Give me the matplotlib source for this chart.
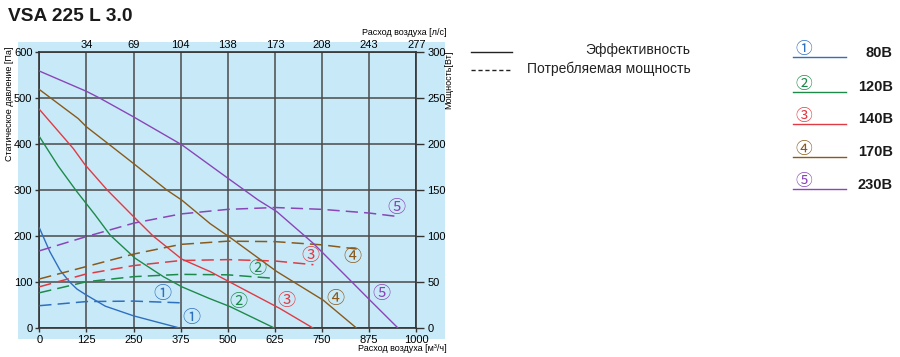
import numpy as np
import matplotlib.pyplot as plt
from matplotlib.patches import Rectangle

plt.rcParams['font.family'] = ['Liberation Sans', 'DejaVu Sans']

# airflow m3/h and static pressure Pa (solid curves)
x1 = [0, 28, 55, 81, 100, 125, 175, 250, 310, 375]
p1 = [218, 166, 126, 100, 85, 72, 48, 27, 14, 0]
x2 = [0, 50, 100, 148, 188, 254, 329, 378, 450, 506, 625]
p2 = [416, 352, 296, 246, 202, 152, 112, 90, 65, 47, 0]
x3 = [0, 90, 121, 180, 249, 302, 378, 453, 506, 638, 727]
p3 = [475, 390, 355, 300, 243, 200, 150, 123, 100, 43, 0]
x4 = [0, 103, 125, 188, 249, 338, 378, 453, 506, 630, 753, 842]
p4 = [518, 455, 437, 397, 358, 300, 278, 227, 197, 123, 61, 0]
x5 = [0, 125, 161, 249, 378, 501, 581, 630, 727, 815, 877, 952]
p5 = [558, 514, 499, 459, 398, 325, 278, 253, 184, 112, 61, 0]

# power consumption W (dashed curves)
wx1 = [0, 125, 250, 385]
w1 = [24.5, 29, 29.5, 27.5]
wx2 = [0, 125, 250, 375, 500, 628]
w2 = [38.5, 50.5, 56, 58.5, 58, 54]
wx3 = [0, 125, 250, 375, 500, 625, 727]
w3 = [45, 59, 68, 73.5, 74.5, 73, 69]
wx4 = [0, 125, 250, 375, 500, 625, 750, 842]
w4 = [53.5, 67, 80.5, 91, 94.5, 94, 90.5, 86]
wx5 = [0, 125, 250, 375, 500, 625, 750, 875, 955]
w5 = [84, 99.5, 114, 124, 129, 131, 129, 125, 121]

colors = ['#2f6fc0', '#1e8a4a', '#e03a44', '#8a5a1c', '#8a45b8']
nums = ['①', '②', '③', '④', '⑤']
volts = ['80В', '120В', '140В', '170В', '230В']

# label positions (m3/h, Pa)
lab_solid = [(404, 23), (528, 56), (654, 60), (784, 64), (908, 74)]
lab_dash = [(327, 74), (579, 128), (718, 157), (831, 155), (946, 262)]

xt = [0, 125, 250, 375, 500, 625, 750, 875, 1000]
top_lbl = ['34', '69', '104', '138', '173', '208', '243', '277']

circ_font = ['Noto Sans CJK JP', 'DejaVu Sans']
bg = '#c8eaf8'
fig = plt.figure(figsize=(9, 3.57), dpi=100)
fig.patches.append(Rectangle((0.02, 0.05), 0.4744, 0.832, transform=fig.transFigure,
                             facecolor=bg, edgecolor='none', zorder=-10))
ax = fig.add_axes([0.0437, 0.0804, 0.4189, 0.7748])
ax.set_facecolor(bg)
ax.set_xlim(0, 1000)
ax.set_ylim(0, 600)
ax.set_xticks(xt)
ax.set_yticks(range(0, 601, 100))
ax.grid(True, color='#4a4a4a', lw=1.1)
for s in ax.spines.values():
    s.set_color('#333333')
    s.set_linewidth(1.2)
ax.tick_params(labelsize=8, length=3, width=1, color='#333333', pad=2)

xs = [x1, x2, x3, x4, x5]
ps = [p1, p2, p3, p4, p5]
wxs = [wx1, wx2, wx3, wx4, wx5]
ws = [w1, w2, w3, w4, w5]
for i in range(5):
    ax.plot(xs[i], ps[i], color=colors[i], lw=1.0, zorder=3)
    ax.plot(wxs[i], np.array(ws[i]) * 2, color=colors[i], lw=1.1,
            dashes=(8, 4), zorder=3)
    ax.text(*lab_solid[i], nums[i], color=colors[i], fontsize=13,
            ha='center', va='center', family=circ_font)
    ax.text(*lab_dash[i], nums[i], color=colors[i], fontsize=13,
            ha='center', va='center', family=circ_font)

ax2 = ax.twinx()
ax2.set_ylim(0, 300)
ax2.set_yticks(range(0, 301, 50))
ax2.tick_params(labelsize=8, length=6, width=1, color='#333333', pad=2)
for s in ax2.spines.values():
    s.set_visible(False)

sec = ax.secondary_xaxis('top')
sec.set_xticks(xt[1:], top_lbl)
sec.tick_params(labelsize=8, length=0, pad=1)
sec.spines['top'].set_visible(False)

ax.set_ylabel('Статическое давление [Па]', fontsize=6.5, labelpad=3)
ax2.set_ylabel('Мощность[Вт]', fontsize=6.5, labelpad=-1)
ax2.yaxis.set_label_coords(1.075, 0.9)
ax.yaxis.set_label_coords(-0.068, 0.81)
fig.text(0.496, 0.895, 'Расход воздуха [л/с]', fontsize=6.5, ha='right', va='bottom')
fig.text(0.496, 0.012, 'Расход воздуха [м³/ч]', fontsize=6.5, ha='right', va='bottom')

fig.text(0.009, 0.955, 'VSA 225 L 3.0', fontsize=13.8, fontweight='bold',
         ha='left', va='center', color='#1a1a1a')

# legend (line type)
fig.add_artist(plt.Line2D([0.523, 0.569], [0.855, 0.855], color='#222222', lw=1.0))
fig.add_artist(plt.Line2D([0.523, 0.569], [0.803, 0.803], color='#222222', lw=1.0,
                          dashes=(3, 2)))
fig.text(0.767, 0.86, 'Эффективность', fontsize=10, ha='right', va='center', color='#222222')
fig.text(0.767, 0.808, 'Потребляемая мощность', fontsize=10, ha='right', va='center',
         color='#222222')

# legend (voltage)
row_y = [0.857, 0.76, 0.672, 0.578, 0.488]
for i in range(5):
    y = row_y[i]
    fig.add_artist(plt.Line2D([0.881, 0.94], [y - 0.018, y - 0.018],
                              color=colors[i], lw=1.0))
    fig.text(0.893, y + 0.003, nums[i], color=colors[i], fontsize=12, ha='center',
             va='center', family=circ_font)
    fig.text(0.992, y - 0.005, volts[i], fontsize=10.5, fontweight='bold',
             ha='right', va='center', color='#1a1a1a')

fig.savefig('out.png', dpi=100)
